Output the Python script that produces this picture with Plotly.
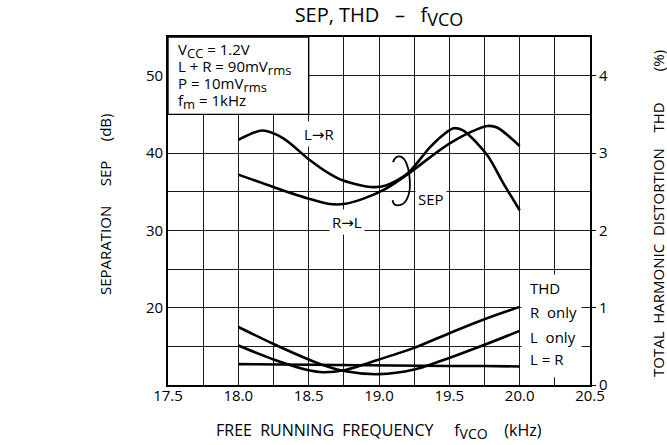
import plotly.graph_objects as go

# ---------------- data ----------------
freq_lr = [18.0, 18.17, 18.32, 18.5, 18.65, 18.75, 18.94, 19.05, 19.2, 19.36, 19.46, 19.53, 19.6, 19.77, 19.88, 20.0]
sep_lr = [41.7, 42.9, 41.9, 39.2, 37.3, 36.4, 35.6, 35.8, 37.3, 40.7, 42.4, 43.2, 42.9, 39.7, 36.2, 32.6]

freq_rl = [18.0, 18.25, 18.5, 18.65, 18.75, 18.89, 19.05, 19.2, 19.36, 19.5, 19.65, 19.77, 19.84, 20.0]
sep_rl = [37.2, 35.6, 34.1, 33.4, 33.4, 34.1, 35.4, 37.2, 39.4, 41.2, 42.7, 43.5, 43.3, 40.9]

freq_thd = [18.0, 18.25, 18.5, 18.6, 18.75, 19.0, 19.25, 19.5, 19.75, 20.0]
thd_r_only = [0.51, 0.33, 0.19, 0.165, 0.19, 0.33, 0.48, 0.67, 0.85, 1.01]
thd_l_only = [0.75, 0.53, 0.33, 0.26, 0.18, 0.14, 0.20, 0.35, 0.52, 0.70]
thd_l_eq_r = [0.27, 0.265, 0.26, 0.26, 0.255, 0.25, 0.25, 0.245, 0.245, 0.24]

x_ticks = [17.5, 18.0, 18.5, 19.0, 19.5, 20.0, 20.5]
sep_ticks = [20, 30, 40, 50]
thd_ticks = [0, 1, 2, 3, 4]

FONT = "Open Sans, DejaVu Sans, sans-serif"
NB = "\u00a0"


def sp(n):
    return NB * n


def sub(t, px):
    return f'<sub><span style="font-size:{px}px">{t}</span></sub>'


fig = go.Figure()

line_style = dict(color="black", width=2.6, shape="spline", smoothing=0.8)
fig.add_trace(go.Scatter(x=freq_lr, y=sep_lr, mode="lines", line=line_style, yaxis="y", hoverinfo="skip"))
fig.add_trace(go.Scatter(x=freq_rl, y=sep_rl, mode="lines", line=line_style, yaxis="y", hoverinfo="skip"))
fig.add_trace(go.Scatter(x=freq_thd, y=thd_r_only, mode="lines", line=line_style, yaxis="y2", hoverinfo="skip"))
fig.add_trace(go.Scatter(x=freq_thd, y=thd_l_only, mode="lines", line=line_style, yaxis="y2", hoverinfo="skip"))
fig.add_trace(go.Scatter(x=freq_thd, y=thd_l_eq_r, mode="lines", line=dict(color="black", width=2.6), yaxis="y2", hoverinfo="skip"))

grid_col = "#1a1a1a"

fig.update_layout(
    width=667, height=445,
    margin=dict(l=168, r=77, t=37, b=60),
    paper_bgcolor="white", plot_bgcolor="white",
    showlegend=False,
    font=dict(family=FONT, size=15, color="black"),
    title=dict(text=f"SEP, THD{sp(3)}–{sp(3)}f{sub('VCO', 18)}", x=0.5, xref="paper",
               y=1 - 15 / 445, yanchor="middle", xanchor="center",
               font=dict(family=FONT, size=20, color="black")),
    xaxis=dict(range=[17.5, 20.5], tickvals=x_ticks, ticktext=[f"{v:.1f}" for v in x_ticks],
               showgrid=True, gridcolor=grid_col, gridwidth=1,
               minor=dict(tickmode="linear", tick0=17.5, dtick=0.25, showgrid=True,
                          gridcolor=grid_col, gridwidth=1),
               showline=True, linecolor="black", linewidth=1.6, mirror=True,
               ticks="", zeroline=False, automargin=False,
               tickfont=dict(family=FONT, size=15)),
    yaxis=dict(range=[10, 55], tickvals=sep_ticks,
               showgrid=True, gridcolor=grid_col, gridwidth=1,
               minor=dict(tickmode="linear", tick0=10, dtick=5, showgrid=True,
                          gridcolor=grid_col, gridwidth=1),
               showline=True, linecolor="black", linewidth=1.6, mirror=True,
               ticks="", zeroline=False, automargin=False,
               tickfont=dict(family=FONT, size=15)),
    yaxis2=dict(range=[0, 4.5], tickvals=thd_ticks, overlaying="y", side="right",
                showgrid=False, zeroline=False, showline=False,
                ticks="outside", ticklen=5, tickwidth=1.2, tickcolor="black",
                automargin=False, tickfont=dict(family=FONT, size=15)),
)

try:
    fig.update_xaxes(ticklabelstandoff=-4)
except Exception:
    pass

# white boxes (above grid, below curves)
fig.add_shape(type="rect", xref="x", yref="y", x0=17.5, x1=18.5, y0=45, y1=55,
              fillcolor="white", line=dict(color="black", width=1.4), layer="between")
fig.add_shape(type="rect", xref="x", yref="y", x0=20.012, x1=20.44, y0=11.0, y1=24.3,
              fillcolor="white", line=dict(width=0), layer="between")

# SEP bracket
fig.add_shape(type="path", xref="x", yref="y",
              path="M 19.100,38.80 Q 19.115,39.75 19.160,39.50 C 19.215,39.0 19.240,35.5 19.200,34.1 "
                   "Q 19.175,33.1 19.120,33.25 Q 19.100,33.35 19.097,33.9",
              line=dict(color="black", width=1.8), layer="above")


def ann(text, x, y, xanchor="center", bg=None, size=15, **kw):
    d = dict(text=text, x=x, y=y, xref="x", yref="y", showarrow=False,
             xanchor=xanchor, yanchor="middle", font=dict(family=FONT, size=size, color="black"))
    if bg:
        d.update(bgcolor=bg, borderpad=2)
    d.update(kw)
    fig.add_annotation(**d)


# condition box
ann(f"V{sub('CC', 13)}{NB}={NB}1.2V", 17.557, 53.2, xanchor="left")
ann(f"L{NB}+{NB}R{NB}={NB}90mV{sub('rms', 13)}", 17.557, 51.0, xanchor="left")
ann(f"P{NB}={NB}10mV{sub('rms', 13)}", 17.557, 48.8, xanchor="left")
ann(f"f{sub('m', 13)}{NB}={NB}1kHz", 17.557, 46.6, xanchor="left")

# curve labels
ann("L→R", 18.57, 42.41, bg="white")
ann("R→L", 18.776, 31.05, bg="white")
ann("SEP", 19.37, 34.02, bg="white")

# THD legend
ann("THD", 20.06, 22.53, xanchor="left")
ann(f"R{sp(2)}only", 20.06, 19.43, xanchor="left")
ann(f"L{sp(2)}only", 20.06, 16.2, xanchor="left")
ann(f"L{NB}={NB}R", 20.06, 13.36, xanchor="left")

# axis titles
fig.add_annotation(text=f"FREE{sp(2)}RUNNING{sp(2)}FREQUENCY{sp(5)}f{sub('VCO', 14)}{sp(4)}(kHz)",
                   xref="paper", yref="paper", x=0.5, y=-46 / 348, showarrow=False,
                   xanchor="center", yanchor="middle", font=dict(family=FONT, size=16))
fig.add_annotation(text=f"SEPARATION{sp(5)}SEP{sp(5)}(dB)",
                   xref="paper", yref="paper", x=-63 / 422, y=181 / 348, showarrow=False,
                   xanchor="center", yanchor="middle", textangle=-90, font=dict(family=FONT, size=15))
fig.add_annotation(text=f"TOTAL{sp(2)}HARMONIC{sp(2)}DISTORTION{sp(4)}THD{sp(8)}(%)",
                   xref="paper", yref="paper", x=490 / 422, y=171 / 348, showarrow=False,
                   xanchor="center", yanchor="middle", textangle=-90, font=dict(family=FONT, size=15))

fig.write_html("out.html")
